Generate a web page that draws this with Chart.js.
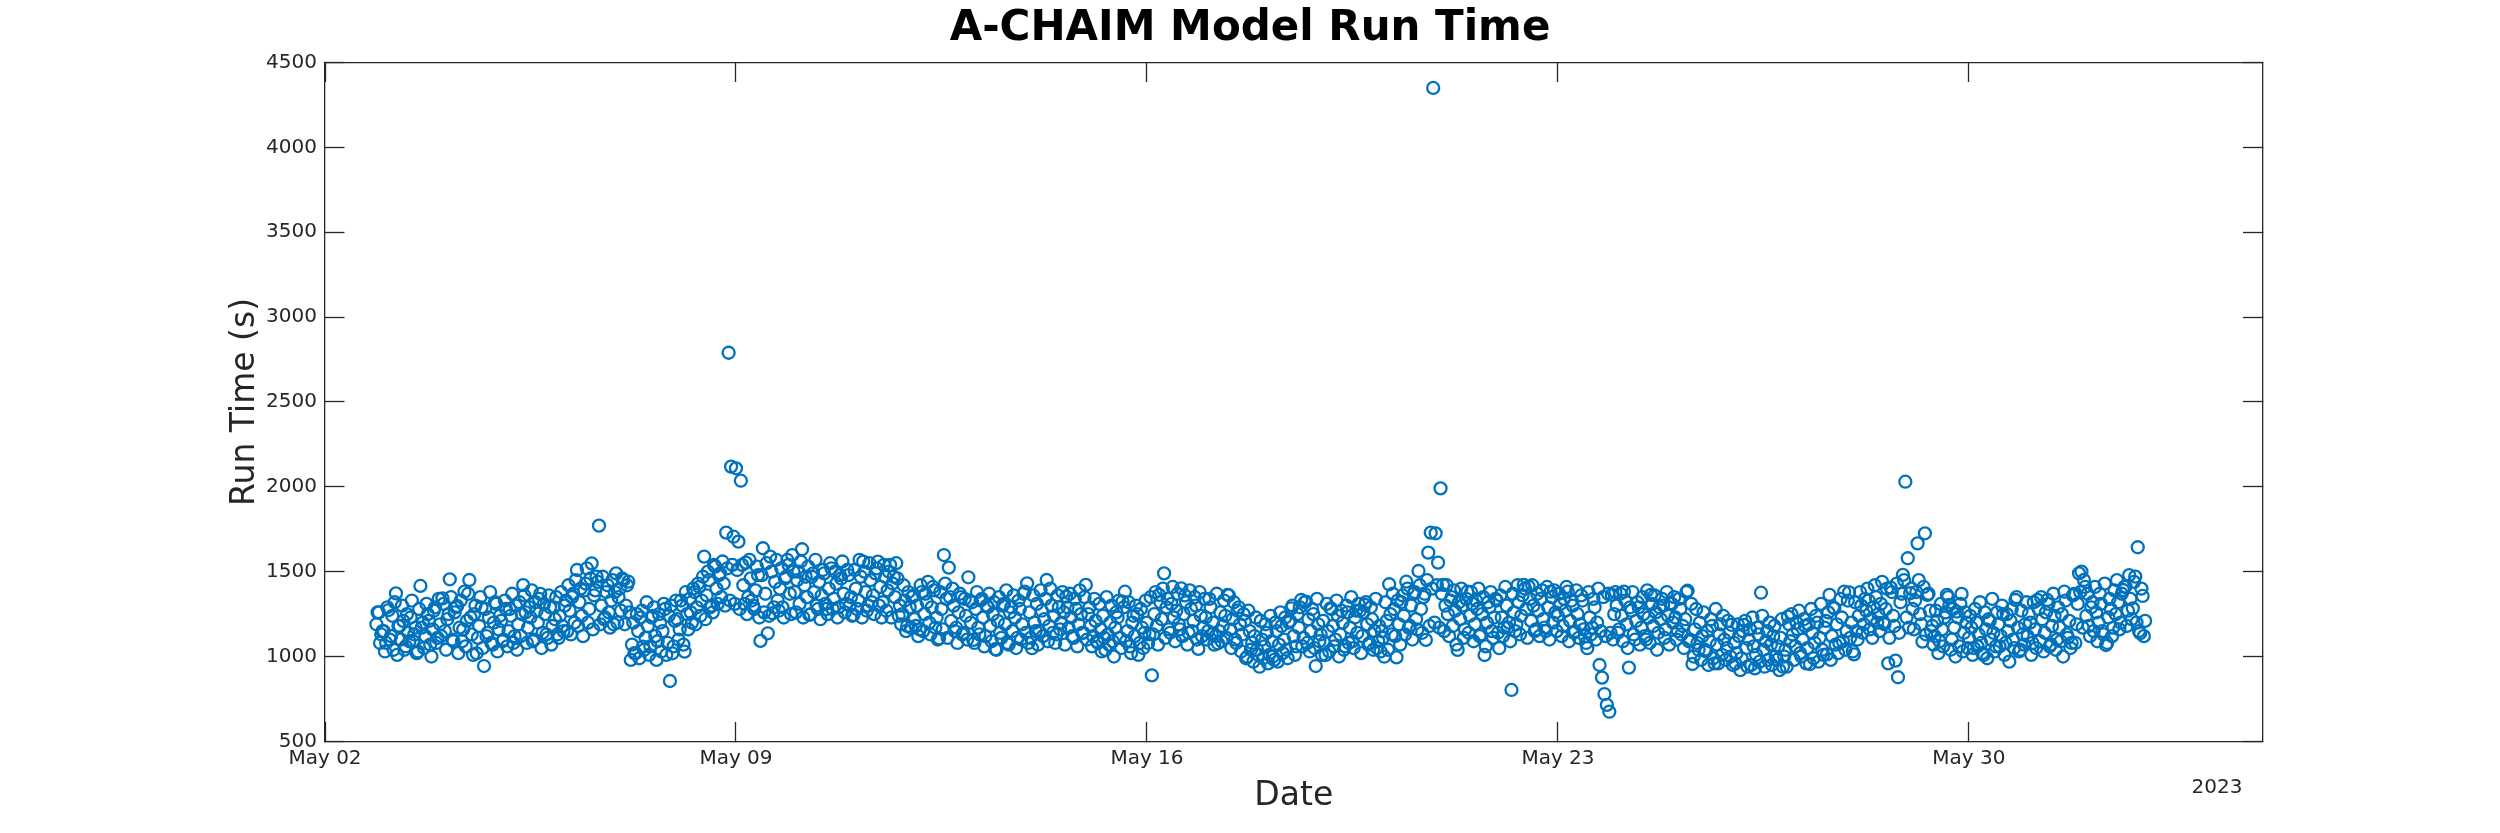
<!DOCTYPE html>
<html>
<head>
<meta charset="utf-8">
<script src="https://cdn.jsdelivr.net/npm/chart.js@4.4.0/dist/chart.umd.min.js"></script>
<style>
  html, body { margin: 0; padding: 0; background: #fff; }
  canvas { display: block; }
</style>
</head>
<body>
<canvas id="myChart" width="2500" height="833" style="width:2500px;height:833px"></canvas>
<script>
const chartTitle = 'A-CHAIM Model Run Time';
const xTitle = 'Date';
const yTitle = 'Run Time (s)';
const yearLabel = '2023';

// x axis in days after 2023-05-02 00:00
const dateTickDays = [0, 7, 14, 21, 28];
const dateTickLabels = ['May 02', 'May 09', 'May 16', 'May 23', 'May 30'];
const runTimeTicks = [500, 1000, 1500, 2000, 2500, 3000, 3500, 4000, 4500];

// runs every 30 min, first run at 21:00 on May 02
const firstRunHour = 21;

// runs on the hour
const runTimesOnHour = [
  1190, 1260, 1130,
  // May 03
  1150, 1080, 1274, 1120, 1040, 1372, 1180, 1100, 1210, 1060, 1140, 1230, 1090, 1170, 1030, 1416, 1200, 1120, 1250, 1070, 1160, 1290, 1110, 1190,
  // May 04
  1343, 1150, 1220, 1455, 1100, 1260, 1298, 1170, 1090, 1382, 1210, 1451, 1130, 1250, 1019, 1180, 1290, 944, 1120, 1230, 1080, 1200, 1310, 1160,
  // May 05
  1210, 1100, 1280, 1150, 1240, 1080, 1300, 1190, 1120, 1421, 1260, 1170, 1230, 1090, 1320, 1200, 1369, 1140, 1250, 1110, 1290, 1180, 1220, 1130,
  // May 06
  1240, 1180, 1300, 1150, 1270, 1350, 1200, 1510, 1320, 1240, 1390, 1520, 1280, 1549, 1360, 1471, 1771, 1300, 1220, 1380, 1260, 1330, 1190, 1490,
  // May 07
  1350, 1270, 1451, 1300, 1441, 980, 1200, 1019, 1150, 1230, 1058, 1110, 1180, 1060, 1240, 1120, 1090, 1200, 1150, 1280, 1080, 856, 1019, 1210,
  // May 08
  1220, 1160, 1300, 1029, 1250, 1340, 1200, 1380, 1290, 1410, 1330, 1589, 1360, 1450, 1300, 1540, 1400, 1480, 1350, 1430, 1730, 2790, 2119, 1706,
  // May 09
  2109, 1677, 2036, 1420, 1553, 1350, 1460, 1300, 1390, 1480, 1092, 1638, 1370, 1137, 1589, 1255, 1440, 1330, 1400, 1290, 1460, 1569, 1370, 1598,
  // May 10
  1380, 1450, 1310, 1632, 1420, 1350, 1245, 1470, 1380, 1300, 1440, 1360, 1490, 1280, 1400, 1520, 1340, 1430, 1290, 1460, 1370, 1310, 1480, 1350,
  // May 11
  1245, 1400, 1330, 1470, 1559, 1380, 1300, 1450, 1360, 1490, 1559, 1410, 1320, 1470, 1390, 1540, 1430, 1350, 1460, 1300, 1250, 1330, 1180, 1290,
  // May 12
  1350, 1220, 1300, 1160, 1380, 1250, 1320, 1200, 1290, 1390, 1230, 1107, 1280, 1598, 1340, 1524, 1210, 1300, 1170, 1260, 1350, 1140, 1240, 1467,
  // May 13
  1200, 1098, 1280, 1170, 1330, 1230, 1120, 1290, 1180, 1250, 1043, 1210, 1140, 1300, 1190, 1080, 1260, 1150, 1230, 1110, 1280, 1190, 1382, 1431,
  // May 14
  1260, 1049, 1200, 1310, 1150, 1270, 1220, 1451, 1180, 1300, 1240, 1130, 1290, 1200, 1260, 1353, 1170, 1230, 1110, 1280, 1190, 1250, 1140, 1422,
  // May 15
  1250, 1180, 1120, 1210, 1080, 1160, 1240, 1039, 1130, 1200, 1090, 1170, 1230, 1110, 1324, 1382, 1150, 1060, 1200, 1120, 1250, 1080, 1170, 1140,
  // May 16
  1200, 1130, 889, 1250, 1180, 1363, 1220, 1490, 1290, 1160, 1310, 1230, 1270, 1190, 1402, 1250, 1320, 1140, 1280, 1210, 1300, 1045, 1240, 1170,
  // May 17
  1230, 1150, 1290, 1200, 1120, 1078, 1260, 1180, 1240, 1363, 1160, 1220, 1100, 1270, 1190, 1130, 1210, 999, 1150, 1080, 1120, 1040, 940, 1100,
  // May 18
  1060, 1140, 1010, 1090, 980, 1150, 1070, 1180, 1100, 1040, 1200, 1284, 1120, 1060, 1170, 1333, 1110, 1324, 1220, 1150, 1250, 944, 1190, 1130,
  // May 19
  1210, 1009, 1150, 1284, 1180, 1100, 1240, 1130, 1200, 1060, 1260, 1170, 1090, 1230, 1140, 1270, 1120, 1304, 1190, 1080, 1220, 1150, 1050, 1180,
  // May 20
  1150, 999, 1210, 1426, 1130, 1280, 995, 1190, 1320, 1240, 1441, 1170, 1300, 1370, 1220, 1504, 1280, 1350, 1098, 1612, 1730, 4350, 1726, 1553,
  // May 21
  1991, 1422, 1300, 1250, 1330, 1180, 1270, 1039, 1220, 1300, 1160, 1382, 1240, 1310, 1190, 1280, 1120, 1250, 1009, 1200, 1290, 1150, 1230, 1330,
  // May 22
  1049, 1230, 1170, 1300, 1200, 803, 1260, 1190, 1320, 1240, 1422, 1280, 1412, 1210, 1300, 1160, 1270, 1340, 1220, 1150, 1290, 1382, 1200, 1260,
  // May 23
  1240, 1310, 1180, 1270, 1382, 1210, 1300, 1150, 1250, 1190, 1330, 1120, 1049, 1230, 1170, 1290, 1200, 950, 876, 779, 715, 675, 1363, 1250,
  // May 24
  1300, 1160, 1240, 1382, 1190, 935, 1270, 1130, 1210, 1290, 1170, 1250, 1100, 1230, 1363, 1180, 1260, 1140, 1220, 1300, 1160, 1240, 1314, 1200,
  // May 25
  1230, 1150, 1280, 1180, 1220, 1388, 1100, 956, 1160, 1080, 1200, 1120, 1040, 1150, 1090, 1180, 960, 1070, 1130, 1010, 1100, 1050, 1140, 1186,
  // May 26
  1080, 1020, 1120, 990, 1186, 1050, 1100, 950, 1060, 1010, 1130, 1376, 1040, 1090, 980, 1070, 1120, 1000, 1060, 1110, 940, 1040, 1235, 1090,
  // May 27
  1130, 1060, 1160, 1020, 1100, 1180, 1050, 956, 1140, 1080, 1200, 1110, 1040, 1170, 1013, 1363, 1120, 1284, 1190, 1080, 1230, 1382, 1150, 1378,
  // May 28
  1200, 1013, 1150, 1240, 1300, 1190, 1270, 1330, 1220, 1290, 1350, 1250, 1310, 1200, 1280, 960, 1406, 1240, 976, 878, 1320, 1481, 2030, 1579,
  // May 29
  1373, 1280, 1330, 1667, 1250, 1088, 1726, 1363, 1270, 1180, 1120, 1210, 1090, 1160, 1230, 1363, 1304, 1100, 1170, 1265, 1060, 1369, 1140, 1200,
  // May 30
  1110, 1170, 1050, 1200, 1130, 1080, 1009, 1160, 1220, 1100, 1140, 1060, 1190, 1120, 1250, 1080, 1150, 1210, 1100, 1333, 1170, 1040, 1130, 1190,
  // May 31
  1120, 1200, 1080, 1160, 1333, 1090, 1220, 1140, 1333, 1060, 1180, 1240, 1100, 1170, 1250, 1382, 1130, 1210, 1080, 1369, 1190, 1490, 1500, 1451,
  // Jun 01
  1240, 1180, 1290, 1150, 1260, 1200, 1310, 1130, 1068, 1230, 1280, 1170, 1250, 1320, 1200, 1392, 1412, 1270, 1340, 1284, 1471, 1644, 1137, 1357,
  // Jun 02
  1210
];

// runs at half past the hour
const runTimesHalfHour = [
  1260, 1080, 1150,
  // May 03
  1030, 1290, 1100, 1240, 1320, 1010, 1180, 1300, 1040, 1250, 1090, 1330, 1130, 1020, 1280, 1170, 1050, 1310, 1210, 1000, 1270, 1080, 1340, 1120,
  // May 04
  1310, 1040, 1250, 1350, 1090, 1290, 1020, 1330, 1160, 1060, 1370, 1230, 1010, 1300, 1110, 1350, 1050, 1280, 1140, 1380, 1070, 1320, 1030, 1240,
  // May 05
  1090, 1330, 1060, 1280, 1370, 1120, 1040, 1320, 1250, 1360, 1080, 1290, 1390, 1100, 1270, 1340, 1050, 1310, 1130, 1360, 1070, 1290, 1350, 1110,
  // May 06
  1380, 1150, 1330, 1420, 1130, 1370, 1450, 1180, 1400, 1120, 1430, 1200, 1460, 1160, 1390, 1440, 1190, 1470, 1230, 1420, 1170, 1450, 1380, 1200,
  // May 07
  1400, 1460, 1190, 1420, 1260, 1070, 1020, 1250, 990, 1270, 1040, 1320, 1010, 1230, 1290, 980, 1250, 1030, 1310, 1010, 1240, 1300, 1060, 1330,
  // May 08
  1100, 1330, 1070, 1380, 1160, 1260, 1400, 1190, 1430, 1240, 1470, 1220, 1500, 1290, 1260, 1530, 1310, 1490, 1560, 1300, 1520, 1330, 1540, 1310,
  // May 09
  1510, 1280, 1540, 1310, 1250, 1570, 1330, 1280, 1530, 1230, 1480, 1260, 1550, 1240, 1500, 1290, 1570, 1270, 1520, 1230, 1470, 1540, 1250, 1500,
  // May 10
  1260, 1500, 1560, 1230, 1470, 1530, 1250, 1490, 1570, 1280, 1220, 1510, 1310, 1250, 1550, 1280, 1500, 1230, 1480, 1560, 1260, 1510, 1300, 1240,
  // May 11
  1510, 1280, 1570, 1230, 1500, 1270, 1550, 1320, 1250, 1520, 1300, 1230, 1540, 1270, 1500, 1230, 1470, 1550, 1240, 1190, 1420, 1150, 1380, 1170,
  // May 12
  1360, 1180, 1120, 1420, 1150, 1370, 1440, 1130, 1410, 1170, 1100, 1380, 1160, 1430, 1110, 1350, 1400, 1150, 1080, 1370, 1130, 1340, 1100, 1330,
  // May 13
  1320, 1080, 1380, 1130, 1340, 1060, 1300, 1370, 1090, 1320, 1040, 1350, 1110, 1310, 1390, 1070, 1290, 1360, 1050, 1330, 1100, 1370, 1140, 1080,
  // May 14
  1110, 1360, 1150, 1070, 1390, 1120, 1340, 1090, 1400, 1140, 1080, 1360, 1160, 1380, 1070, 1290, 1370, 1120, 1340, 1060, 1390, 1140, 1350, 1100,
  // May 15
  1290, 1060, 1340, 1090, 1310, 1030, 1110, 1350, 1070, 1300, 1000, 1260, 1330, 1050, 1290, 1090, 1320, 1020, 1240, 1300, 1010, 1280, 1050, 1330,
  // May 16
  1080, 1350, 1130, 1380, 1070, 1320, 1400, 1110, 1340, 1140, 1410, 1090, 1370, 1160, 1120, 1360, 1070, 1390, 1150, 1350, 1100, 1380, 1120, 1340,
  // May 17
  1100, 1340, 1130, 1070, 1370, 1150, 1090, 1330, 1110, 1360, 1050, 1320, 1080, 1290, 1030, 1250, 990, 1270, 1040, 970, 1230, 1010, 1210, 990,
  // May 18
  1190, 960, 1240, 1000, 1200, 970, 1260, 1020, 1230, 990, 1210, 1300, 1010, 1250, 1290, 1060, 1320, 1080, 1030, 1280, 1050, 1340, 1090, 1010,
  // May 19
  1080, 1310, 1030, 1280, 1060, 1330, 1000, 1270, 1040, 1300, 1080, 1350, 1050, 1270, 1310, 1020, 1260, 1320, 1070, 1290, 1040, 1340, 1090, 1030,
  // May 20
  1110, 1320, 1040, 1250, 1370, 1120, 1330, 1070, 1360, 1130, 1400, 1180, 1100, 1380, 1160, 1420, 1140, 1370, 1450, 1180, 1400, 1200, 1420, 1170,
  // May 21
  1370, 1150, 1420, 1120, 1350, 1390, 1070, 1320, 1400, 1110, 1340, 1140, 1380, 1090, 1330, 1400, 1130, 1350, 1060, 1320, 1380, 1110, 1340, 1140,
  // May 22
  1360, 1120, 1410, 1170, 1090, 1370, 1150, 1420, 1130, 1360, 1400, 1110, 1340, 1420, 1150, 1370, 1120, 1390, 1170, 1410, 1100, 1350, 1390, 1150,
  // May 23
  1370, 1120, 1340, 1410, 1090, 1330, 1140, 1390, 1110, 1360, 1160, 1080, 1380, 1130, 1340, 1100, 1400, 1150, 1350, 1120, 1370, 1140, 1100, 1380,
  // May 24
  1140, 1370, 1090, 1330, 1050, 1290, 1380, 1100, 1320, 1070, 1350, 1120, 1390, 1080, 1310, 1360, 1040, 1290, 1340, 1110, 1380, 1070, 1310, 1350,
  // May 25
  1100, 1340, 1130, 1050, 1380, 1090, 1310, 1000, 1280, 1040, 980, 1260, 1030, 950, 1220, 990, 1280, 960, 1190, 1240, 980, 1210, 1000, 950,
  // May 26
  960, 1190, 920, 1150, 1210, 940, 1160, 1230, 930, 1170, 970, 1240, 940, 1150, 1200, 950, 1180, 980, 920, 1220, 1000, 940, 1190, 1250,
  // May 27
  980, 1200, 1270, 1000, 1220, 960, 1190, 1280, 990, 1240, 970, 1310, 1010, 1210, 1260, 980, 1290, 1070, 1020, 1340, 1090, 1040, 1330, 1110,
  // May 28
  1030, 1320, 1100, 1380, 1140, 1340, 1400, 1160, 1110, 1420, 1200, 1150, 1440, 1190, 1400, 1110, 1380, 1180, 1430, 1140, 1370, 1450, 1230, 1170,
  // May 29
  1400, 1160, 1380, 1450, 1190, 1410, 1130, 1370, 1150, 1070, 1270, 1020, 1310, 1060, 1260, 1350, 1040, 1280, 1000, 1230, 1310, 1030, 1260, 1050,
  // May 30
  1240, 1010, 1280, 1060, 1320, 1020, 1260, 990, 1210, 1340, 1030, 1260, 1060, 1300, 1010, 1250, 970, 1280, 1050, 1350, 1030, 1270, 1070, 1320,
  // May 31
  1250, 1010, 1320, 1050, 1280, 1350, 1030, 1260, 1310, 1070, 1370, 1040, 1290, 1090, 1000, 1330, 1110, 1050, 1360, 1080, 1310, 1380, 1170, 1410,
  // Jun 01
  1370, 1120, 1320, 1410, 1090, 1370, 1150, 1430, 1080, 1340, 1120, 1390, 1450, 1160, 1370, 1410, 1180, 1480, 1220, 1440, 1200, 1150, 1400, 1120
];

const axisColor = '#262626';
const markerColor = '#0072BD';

Chart.defaults.font.family = '"DejaVu Sans", sans-serif';
Chart.defaults.color = axisColor;

const points = [
    ...runTimesOnHour.map((t, i) => ({ x: (firstRunHour + i) / 24, y: t })),
    ...runTimesHalfHour.map((t, i) => ({ x: (firstRunHour + i + 0.5) / 24, y: t }))
].sort((a, b) => a.x - b.x);

const setDateTicks = (scale) => {
    scale.ticks = dateTickDays.map(value => ({ value }));
};
const setRunTimeTicks = (scale) => {
    scale.ticks = runTimeTicks.map(value => ({ value }));
};

// small year label under the right end of the date axis
const yearLabelPlugin = {
    id: 'yearLabel',
    afterDraw(chart) {
        const { ctx, chartArea } = chart;
        ctx.save();
        ctx.font = '20px "DejaVu Sans"';
        ctx.fillStyle = axisColor;
        ctx.textAlign = 'right';
        ctx.textBaseline = 'middle';
        ctx.fillText(yearLabel, chartArea.right - 20, 788);
        ctx.restore();
    }
};

const boxGrid = {
    drawOnChartArea: false,
    drawTicks: true,
    tickLength: -19.5,
    tickColor: axisColor,
    tickWidth: 1.3
};
const boxBorder = { display: true, color: axisColor, width: 1.3 };

const ctx = document.getElementById('myChart').getContext('2d');

const chart = new Chart(ctx, {
    type: 'scatter',
    data: {
        datasets: [
            {
                label: 'Run Time',
                data: points,
                borderColor: markerColor,
                backgroundColor: 'rgba(0, 0, 0, 0)',
                pointStyle: 'circle',
                pointRadius: 6,
                pointBorderWidth: 2.3,
                showLine: false,
            }
        ]
    },
    options: {
        responsive: false,
        animation: false,
        devicePixelRatio: 1,
        layout: { padding: 0 },
        plugins: {
            legend: { display: false },
            tooltip: { enabled: false },
            title: {
                display: true,
                text: chartTitle,
                color: '#000',
                font: { size: 42, weight: 'bold' },
                padding: { top: 4, bottom: 8.1 }
            }
        },
        scales: {
            x: {
                type: 'linear',
                position: 'bottom',
                min: 0,
                max: 33,
                afterBuildTicks: setDateTicks,
                afterFit: (scale) => { scale.height = 91.6; },
                ticks: {
                    font: { size: 20 },
                    color: axisColor,
                    padding: 25,
                    maxRotation: 0,
                    autoSkip: false,
                    callback: (value) => dateTickLabels[dateTickDays.indexOf(value)] ?? ''
                },
                grid: boxGrid,
                border: boxBorder,
                title: {
                    display: true,
                    text: xTitle,
                    color: axisColor,
                    font: { size: 33 },
                    padding: { top: 0, bottom: 17 }
                }
            },
            xTop: {
                type: 'linear',
                position: 'top',
                min: 0,
                max: 33,
                afterBuildTicks: setDateTicks,
                afterFit: (scale) => { scale.height = 0; },
                ticks: { display: false },
                grid: boxGrid,
                border: boxBorder
            },
            y: {
                type: 'linear',
                position: 'left',
                min: 500,
                max: 4500,
                afterBuildTicks: setRunTimeTicks,
                afterFit: (scale) => { scale.width = 325; },
                ticks: {
                    font: { size: 20 },
                    color: axisColor,
                    padding: 27.5,
                    callback: (value) => String(value)
                },
                grid: boxGrid,
                border: boxBorder,
                title: {
                    display: true,
                    text: yTitle,
                    color: axisColor,
                    font: { size: 33 },
                    padding: { top: 226, bottom: 0 }
                }
            },
            yRight: {
                type: 'linear',
                position: 'right',
                min: 500,
                max: 4500,
                afterBuildTicks: setRunTimeTicks,
                afterFit: (scale) => { scale.width = 237.5; },
                ticks: { display: false },
                grid: boxGrid,
                border: boxBorder
            }
        }
    },
    plugins: [yearLabelPlugin]
});
</script>
</body>
</html>
